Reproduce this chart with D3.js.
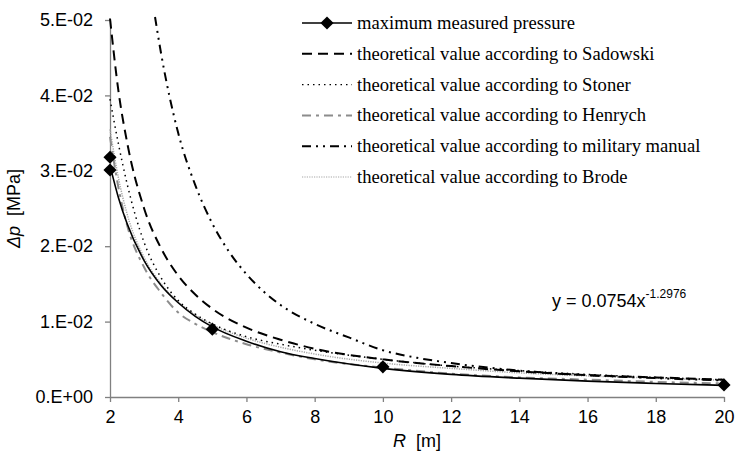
<!DOCTYPE html>
<html>
<head>
<meta charset="utf-8">
<script src="https://cdn.jsdelivr.net/npm/d3@7.9.0/dist/d3.min.js"></script>
<style>
  body { margin: 0; background: #fff; }
  svg { display: block; }
</style>
</head>
<body>
<div id="chart"></div>
<script>
// measured points
const measuredR = [2, 2, 5, 10, 20];
const measuredP = [0.0318, 0.0301, 0.0090, 0.0040, 0.0016];

// power trend line through measured points
const trendR = [2, 2.25, 2.5, 3, 3.5, 4, 4.5, 5, 6, 7, 8, 10, 12, 14, 16, 18, 20];
const trendP = [0.0307, 0.0264, 0.0230, 0.0181, 0.0148, 0.0125, 0.0107, 0.0093, 0.0074, 0.0060, 0.0051, 0.0038, 0.0030, 0.0025, 0.0021, 0.0018, 0.00154];

// theoretical curves
const curveR = [2, 2.25, 2.5, 3, 3.5, 4, 4.5, 5, 6, 7, 8, 10, 12, 14, 16, 18, 20];
const sadowskiP = [0.0502, 0.0405, 0.0338, 0.0250, 0.0197, 0.0161, 0.0136, 0.0117, 0.0092, 0.0076, 0.0064, 0.0050, 0.0041, 0.0034, 0.0029, 0.0026, 0.0023];
const stonerP   = [0.0395, 0.0335, 0.0283, 0.0205, 0.0158, 0.0128, 0.0110, 0.0097, 0.0080, 0.0070, 0.0062, 0.0050, 0.0041, 0.0035, 0.0030, 0.0026, 0.0023];
const henrychP  = [0.0345, 0.0277, 0.0228, 0.0172, 0.0138, 0.0112, 0.0097, 0.0086, 0.0070, 0.0059, 0.0050, 0.0039, 0.0031, 0.0026, 0.0023, 0.0020, 0.0018];
const brodeP    = [0.0355, 0.0290, 0.0243, 0.0185, 0.0150, 0.0126, 0.0109, 0.0096, 0.0078, 0.0066, 0.0057, 0.0045, 0.0038, 0.0032, 0.0028, 0.0025, 0.0022];

const militaryR = [3.32, 3.5, 4, 4.5, 5, 5.5, 6, 6.5, 7, 8, 9, 10, 11, 12, 14, 16, 18, 20];
const militaryP = [0.0504, 0.0455, 0.0350, 0.0281, 0.0230, 0.0192, 0.0163, 0.0140, 0.0122, 0.0097, 0.0079, 0.0062, 0.0052, 0.0045, 0.0035, 0.0029, 0.0025, 0.0022];

const xTicks = [2, 4, 6, 8, 10, 12, 14, 16, 18, 20];
const yTicks = [0, 0.01, 0.02, 0.03, 0.04, 0.05];
const yTickLabels = ["0.E+00", "1.E-02", "2.E-02", "3.E-02", "4.E-02", "5.E-02"];

const legendLabels = [
  "maximum measured pressure",
  "theoretical value according to Sadowski",
  "theoretical value according to Stoner",
  "theoretical value according to Henrych",
  "theoretical value according to military manual",
  "theoretical value according to Brode"
];

const width = 735, height = 453;
const margin = { top: 20, right: 11, bottom: 56, left: 110 };

const svg = d3.select('#chart')
  .append('svg')
  .attr('width', width)
  .attr('height', height);

const xScale = d3.scaleLinear()
  .domain([2, 20])
  .range([margin.left, width - margin.right]);

const yScale = d3.scaleLinear()
  .domain([0, 0.05])
  .range([height - margin.bottom, margin.top]);

// axes
const xAxis = svg.append('g')
  .attr('transform', `translate(0, ${height - margin.bottom})`)
  .call(d3.axisBottom(xScale).tickValues(xTicks).tickSize(5).tickSizeOuter(0).tickPadding(8));

const yAxis = svg.append('g')
  .attr('transform', `translate(${margin.left}, 0)`)
  .call(d3.axisLeft(yScale).tickValues(yTicks).tickSize(5).tickSizeOuter(0).tickPadding(12)
    .tickFormat((d, i) => yTickLabels[i]));

[xAxis, yAxis].forEach(g => {
  g.selectAll('path, line').attr('stroke', '#808080').attr('stroke-width', 1.3);
  g.selectAll('text')
    .attr('font-family', 'Liberation Sans, Arial, sans-serif')
    .attr('font-size', 18)
    .attr('fill', '#000');
});

// axis titles
const yTitle = svg.append('text')
  .attr('transform', `translate(20, ${(margin.top + height - margin.bottom) / 2}) rotate(-90)`)
  .attr('text-anchor', 'middle')
  .attr('font-family', 'Liberation Sans, Arial, sans-serif')
  .attr('font-size', 18);
yTitle.append('tspan').attr('font-style', 'italic').text('Δp');
yTitle.append('tspan').text('\u00a0\u00a0[MPa]');

const xTitle = svg.append('text')
  .attr('x', (margin.left + width - margin.right) / 2)
  .attr('y', 447)
  .attr('text-anchor', 'middle')
  .attr('font-family', 'Liberation Sans, Arial, sans-serif')
  .attr('font-size', 18);
xTitle.append('tspan').attr('font-style', 'italic').text('R');
xTitle.append('tspan').text('\u00a0\u00a0[m]');

// series
const line = d3.line()
  .x(d => xScale(d[0]))
  .y(d => yScale(d[1]))
  .curve(d3.curveMonotoneX);

const series = [
  { r: curveR, p: brodeP, stroke: '#a6a6a6', width: 1.5, dash: '1.2,1.2' },
  { r: curveR, p: henrychP, stroke: '#8c8c8c', width: 2, dash: '9,5,3,5' },
  { r: curveR, p: stonerP, stroke: '#000', width: 1.5, dash: '1.5,4' },
  { r: curveR, p: sadowskiP, stroke: '#000', width: 2, dash: '10,6' },
  { r: militaryR, p: militaryP, stroke: '#000', width: 2, dash: '9,5,2,5,2,5' },
  { r: trendR, p: trendP, stroke: '#000', width: 1.6, dash: null }
];

const lines = svg.append('g').attr('class', 'lines');
series.forEach(s => {
  lines.append('path')
    .datum(s.r.map((r, i) => [r, s.p[i]]))
    .attr('fill', 'none')
    .attr('stroke', s.stroke)
    .attr('stroke-width', s.width)
    .attr('stroke-dasharray', s.dash)
    .attr('d', line);
});

// diamonds
const diamond = d3.symbol().type(d3.symbolDiamond2).size(110);
svg.append('g')
  .selectAll('path')
  .data(measuredR.map((r, i) => [r, measuredP[i]]))
  .enter()
  .append('path')
  .attr('d', diamond)
  .attr('transform', d => `translate(${xScale(d[0])}, ${yScale(d[1])})`)
  .attr('fill', '#000');

// trend equation
const eq = svg.append('text')
  .attr('x', 552)
  .attr('y', 307)
  .attr('font-family', 'Liberation Sans, Arial, sans-serif')
  .attr('font-size', 18);
eq.append('tspan').text('y = 0.0754x');
eq.append('tspan').attr('dy', -9).attr('font-size', 12).text('-1.2976');

// legend
const legendStyles = [
  { stroke: '#000', width: 1.6, dash: null, marker: true },
  { stroke: '#000', width: 2, dash: '10,6' },
  { stroke: '#000', width: 1.2, dash: '1.5,4' },
  { stroke: '#8c8c8c', width: 2, dash: '9,5,3,5' },
  { stroke: '#000', width: 2, dash: '9,5,2,5,2,5' },
  { stroke: '#a6a6a6', width: 1.2, dash: '1.2,1.2' }
];

const legend = svg.append('g').attr('class', 'legend');
legendLabels.forEach((label, i) => {
  const y = 23 + i * 30.8;
  const st = legendStyles[i];
  legend.append('line')
    .attr('x1', 302).attr('x2', 352)
    .attr('y1', y).attr('y2', y)
    .attr('stroke', st.stroke)
    .attr('stroke-width', st.width)
    .attr('stroke-dasharray', st.dash);
  if (st.marker) {
    legend.append('path')
      .attr('d', diamond)
      .attr('transform', `translate(327, ${y})`)
      .attr('fill', '#000');
  }
  legend.append('text')
    .attr('x', 357)
    .attr('y', y + 6)
    .attr('font-family', 'Liberation Serif, Times New Roman, serif')
    .attr('font-size', 18.6)
    .text(label);
});
</script>
</body>
</html>
